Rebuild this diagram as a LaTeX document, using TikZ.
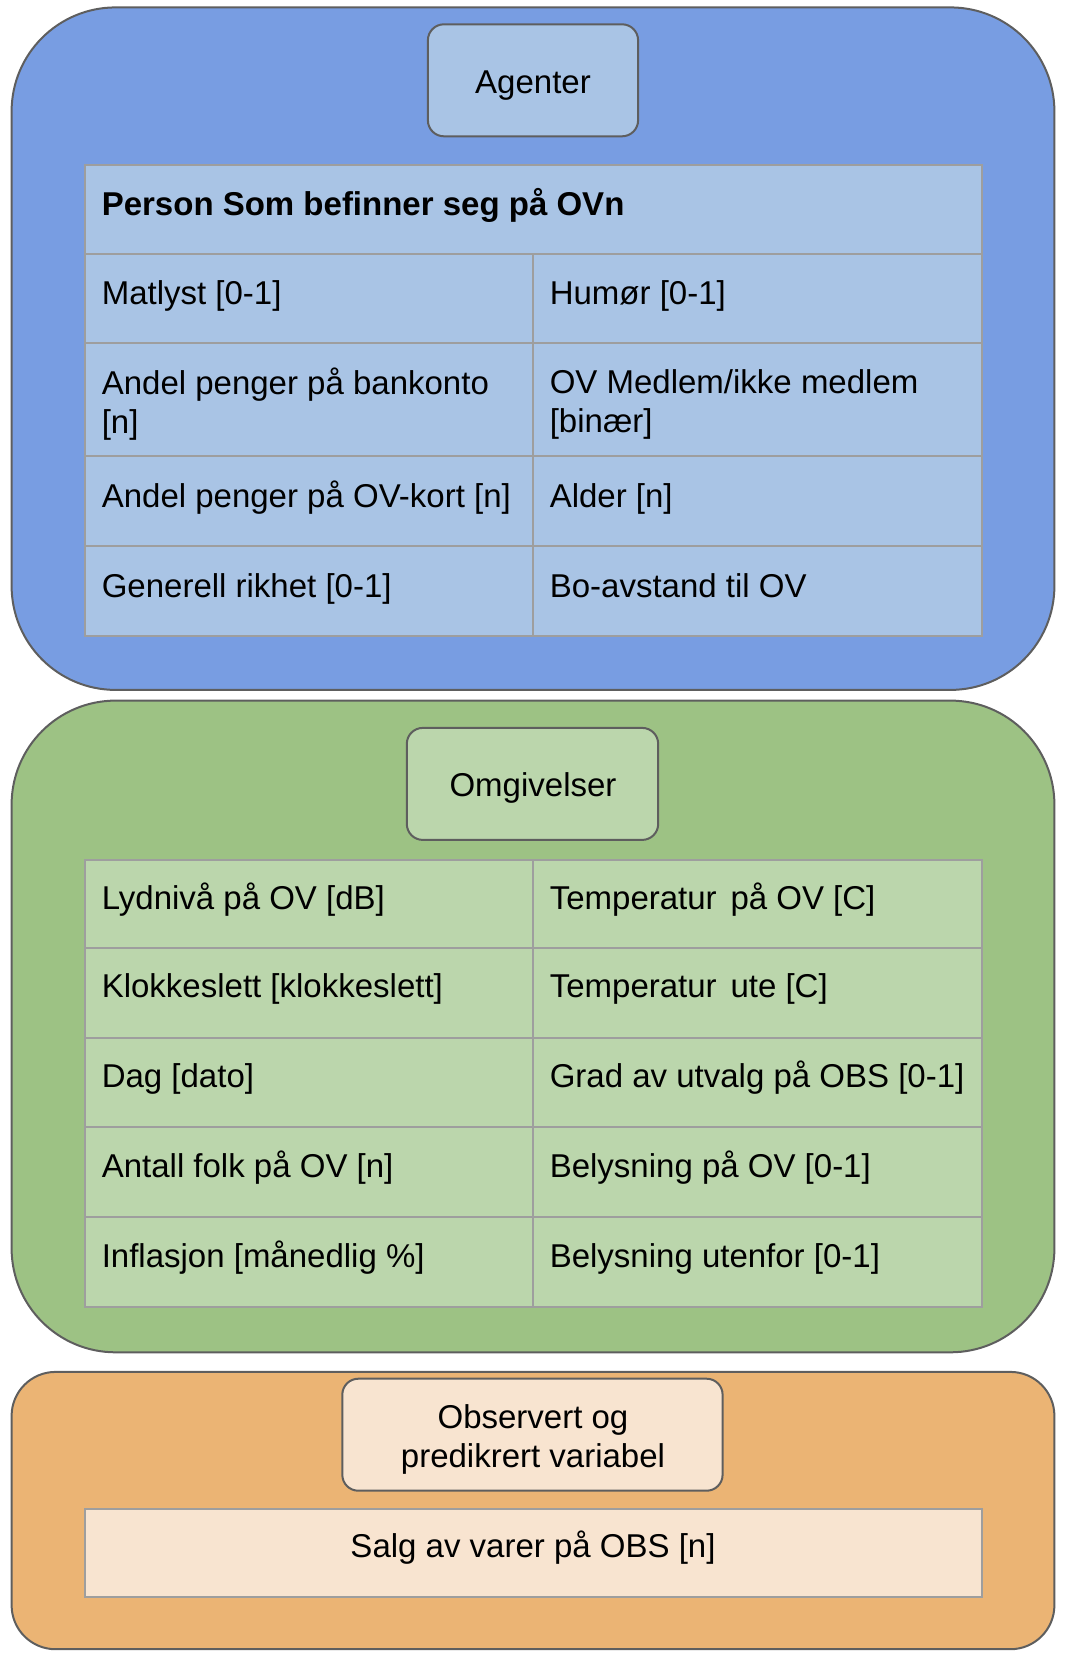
\documentclass[tikz,border=0pt]{standalone}
\usepackage{fontspec}
\setmainfont{Liberation Sans}
\definecolor{agentbg}{HTML}{789DE2}
\definecolor{agentcell}{HTML}{A9C4E5}
\definecolor{envbg}{HTML}{9DC284}
\definecolor{envcell}{HTML}{BBD6AC}
\definecolor{obsbg}{HTML}{EBB474}
\definecolor{obscell}{HTML}{F8E4D0}
\definecolor{edge}{HTML}{5E5E5E}
\definecolor{grid}{HTML}{9E9E9E}
\begin{document}
\begin{tikzpicture}[x=0.5pt, y=-0.5pt,
  every node/.style={font=\fontsize{16.5}{19.5}\selectfont, inner sep=0pt},
  group/.style={draw=edge, line width=1pt, rounded corners=52pt},
  titlebox/.style={draw=edge, line width=1pt, rounded corners=8pt},
  gridline/.style={draw=grid, line width=1pt},
  cell/.style={anchor=base west},
  cell2/.style={anchor=west, align=left}]
\useasboundingbox (0,0) rectangle (1066,1656);

% Agenter
\draw[group, fill=agentbg] (11.6,7.4) rectangle (1054.4,689.9);
\draw[titlebox, fill=agentcell] (427.9,24.3) rectangle (638.1,136.3);
\node[anchor=base] (agenter) at (533,93.4) {Agenter};
\fill[agentcell] (84.5,164.8) rectangle (981.5,636);
\draw[gridline] (84.5,164.8) rectangle (981.5,636);
\draw[gridline] (84.5,253.6) -- (981.5,253.6);
\draw[gridline] (84.5,343.4) -- (981.5,343.4);
\draw[gridline] (84.5,456.4) -- (981.5,456.4);
\draw[gridline] (84.5,546.2) -- (981.5,546.2);
\draw[gridline] (532.5,253.6) -- (532.5,636);
\node[cell] (person) at (101.4,215.8) {\bfseries Person Som befinner seg på OVn};
\node[cell] (matlyst) at (101.4,304.6) {Matlyst [0-1]};
\node[cell] (humor) at (549.4,304.6) {Humør [0-1]};
\node[cell2] (bank) at (101.4,404) {Andel penger på bankonto\\{}[n]};
\node[cell2] (medlem) at (549.4,404) {OV Medlem/ikke medlem\\{}[binær]};
\node[cell] (ovkort) at (101.4,507.4) {Andel penger på OV-kort [n]};
\node[cell] (alder) at (549.4,507.4) {Alder [n]};
\node[cell] (rikhet) at (101.4,597.2) {Generell rikhet [0-1]};
\node[cell] (avstand) at (549.4,597.2) {Bo-avstand til OV};

% Omgivelser
\draw[group, fill=envbg] (11.6,700.6) rectangle (1054.4,1352.3);
\draw[titlebox, fill=envcell] (406.8,727.9) rectangle (658.2,839.9);
\node[anchor=base] (omgivelser) at (533,796) {Omgivelser};
\fill[envcell] (84.5,860) rectangle (981.5,1306.9);
\draw[gridline] (84.5,860) rectangle (981.5,1306.9);
\draw[gridline] (84.5,947.7) -- (981.5,947.7);
\draw[gridline] (84.5,1037.5) -- (981.5,1037.5);
\draw[gridline] (84.5,1127.3) -- (981.5,1127.3);
\draw[gridline] (84.5,1217.1) -- (981.5,1217.1);
\draw[gridline] (532.5,860) -- (532.5,1306.9);
\node[cell] (lyd) at (101.4,909) {Lydnivå på OV [dB]};
\node[cell] (tempov) at (549.4,909) {Temperatur\hspace{0.42em}på OV [C]};
\node[cell] (klokke) at (101.4,997.7) {Klokkeslett [klokkeslett]};
\node[cell] (tempute) at (549.4,997.7) {Temperatur\hspace{0.42em}ute [C]};
\node[cell] (dag) at (101.4,1087.5) {Dag [dato]};
\node[cell] (utvalg) at (549.4,1087.5) {Grad av utvalg på OBS [0-1]};
\node[cell] (folk) at (101.4,1177.3) {Antall folk på OV [n]};
\node[cell] (lysov) at (549.4,1177.3) {Belysning på OV [0-1]};
\node[cell] (inflasjon) at (101.4,1267.1) {Inflasjon [månedlig \%]};
\node[cell] (lysute) at (549.4,1267.1) {Belysning utenfor [0-1]};

% Observert
\draw[group, rounded corners=22pt, fill=obsbg] (11.6,1371.9) rectangle (1054.4,1649.2);
\draw[titlebox, fill=obscell] (342.3,1378.7) rectangle (722.6,1490.7);
\node[align=center] (observert) at (533,1439) {Observert og\\predikrert variabel};
\draw[gridline, fill=obscell] (84.5,1508.6) rectangle (981.5,1597.4);
\node[anchor=base] (salg) at (533,1557.7) {Salg av varer på OBS [n]};
\end{tikzpicture}
\end{document}
